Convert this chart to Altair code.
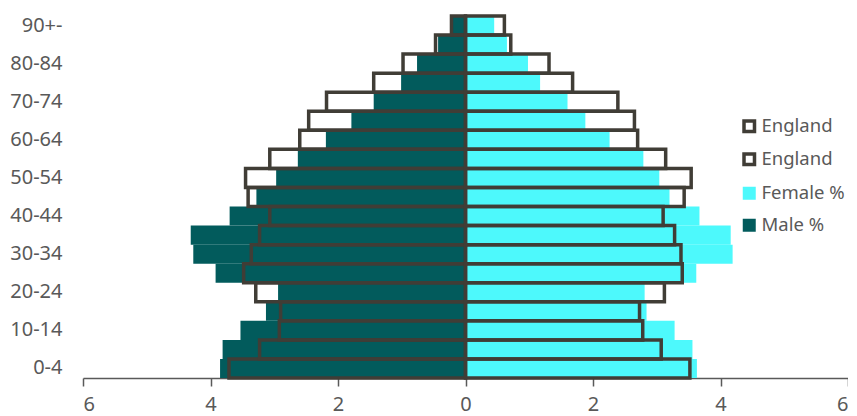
import altair as alt
import pandas as pd

ages = ["0-4", "5-9", "10-14", "15-19", "20-24", "25-29", "30-34", "35-39",
        "40-44", "45-49", "50-54", "55-59", "60-64", "65-69", "70-74", "75-79",
        "80-84", "85-89", "90+-"]
male = [3.85, 3.81, 3.53, 3.13, 2.94, 3.92, 4.27, 4.31, 3.70, 3.28, 2.97,
        2.63, 2.19, 1.79, 1.44, 1.01, 0.76, 0.43, 0.24]
female = [3.63, 3.56, 3.28, 2.84, 2.81, 3.62, 4.19, 4.16, 3.67, 3.20, 3.04,
          2.79, 2.26, 1.88, 1.60, 1.17, 0.98, 0.65, 0.45]
eng_male = [3.71, 3.23, 2.92, 2.90, 3.29, 3.48, 3.36, 3.23, 3.07, 3.41, 3.45,
            3.07, 2.60, 2.46, 2.18, 1.44, 0.98, 0.47, 0.22]
eng_female = [3.52, 3.07, 2.78, 2.73, 3.12, 3.40, 3.38, 3.28, 3.10, 3.43, 3.54,
              3.14, 2.70, 2.65, 2.39, 1.68, 1.31, 0.71, 0.61]
x_ticks = [-6, -4, -2, 0, 2, 4, 6]

TEAL = "#025B5C"
CYAN = "#4DF9FC"
OUTLINE = "#403D36"
TEXT = "#595959"
FONT = "Segoe UI, Noto Sans, sans-serif"

df = pd.DataFrame({
    "age": ages,
    "male": [-v for v in male],
    "female": female,
    "eng_male": [-v for v in eng_male],
    "eng_female": eng_female,
    "zero": [0.0] * len(ages),
})

y_enc = alt.Y(
    "age:N",
    sort=list(reversed(ages)),
    scale=alt.Scale(paddingInner=0, paddingOuter=0),
    axis=alt.Axis(values=ages[::2], title=None, domain=False, ticks=False,
                  labelFontSize=20, labelColor=TEXT, labelFont=FONT,
                  labelPadding=21),
)

x_scale = alt.Scale(domain=[-6, 6], nice=False, zero=False)
x_axis = alt.Axis(values=x_ticks, labelExpr="abs(datum.value)", title=None,
                  grid=False, domainColor=TEXT, domainWidth=1.5, tickColor=TEXT,
                  tickWidth=1.5, tickSize=8, labelFontSize=20, labelColor=TEXT,
                  labelFont=FONT, labelPadding=8)

fill_scale = alt.Scale(domain=["Female %", "Male %"], range=[CYAN, TEAL])
stroke_scale = alt.Scale(domain=["England F", "England M"], range=[OUTLINE, OUTLINE])

fill_legend = alt.Legend(title=None, orient="none", legendX=657, legendY=168,
                         symbolType="square", symbolSize=169, symbolStrokeWidth=0,
                         labelFontSize=18.5, labelColor=TEXT, labelFont=FONT,
                         labelOffset=3, rowPadding=13, padding=0)
stroke_legend = alt.Legend(title=None, orient="none", legendX=657, legendY=101,
                           symbolType="square", symbolSize=110, symbolStrokeWidth=3.5,
                           symbolStrokeColor=OUTLINE, symbolFillColor="white",
                           labelExpr="'England'",
                           labelFontSize=18.5, labelColor=TEXT, labelFont=FONT,
                           labelOffset=3, rowPadding=8, padding=0)

base = alt.Chart(df)

male_bars = base.transform_calculate(series="'Male %'").mark_bar().encode(
    y=y_enc,
    x=alt.X("male:Q", scale=x_scale, axis=x_axis),
    x2="zero:Q",
    fill=alt.Fill("series:N", scale=fill_scale, legend=fill_legend),
)
female_bars = base.transform_calculate(series="'Female %'").mark_bar().encode(
    y=y_enc,
    x=alt.X("female:Q", scale=x_scale, axis=x_axis),
    x2="zero:Q",
    fill=alt.Fill("series:N", scale=fill_scale, legend=fill_legend),
)
eng_m = base.transform_calculate(series="'England M'").mark_bar(
    filled=False, strokeWidth=3.5).encode(
    y=y_enc,
    x=alt.X("eng_male:Q", scale=x_scale, axis=x_axis),
    x2="zero:Q",
    stroke=alt.Stroke("series:N", scale=stroke_scale, legend=stroke_legend),
)
eng_f = base.transform_calculate(series="'England F'").mark_bar(
    filled=False, strokeWidth=3.5).encode(
    y=y_enc,
    x=alt.X("eng_female:Q", scale=x_scale, axis=x_axis),
    x2="zero:Q",
    stroke=alt.Stroke("series:N", scale=stroke_scale, legend=stroke_legend),
)

chart = alt.layer(male_bars, female_bars, eng_m, eng_f).properties(
    width=765, height=362,
    background="white",
    autosize=alt.AutoSizeParams(type="none"),
    padding={"left": 75, "top": 8, "right": 0, "bottom": 40},
).configure_view(strokeWidth=0)

chart.save("out.html", embed_options={"renderer": "svg", "actions": False})
